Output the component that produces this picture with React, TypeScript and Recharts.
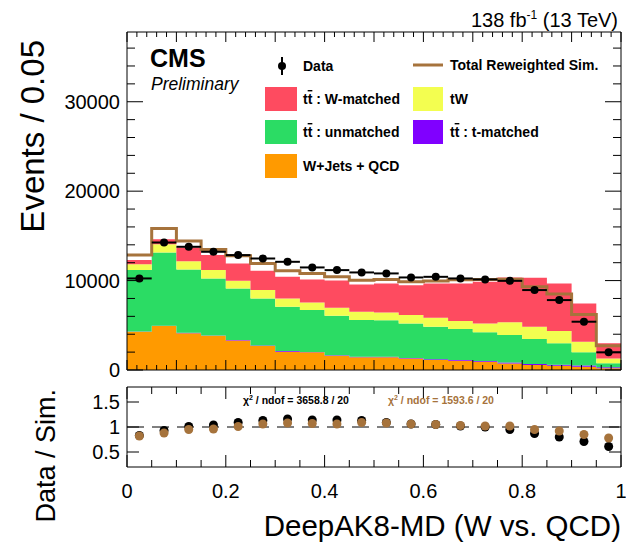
import {
  ComposedChart,
  Area,
  Line,
  Scatter,
  XAxis,
  YAxis,
  ErrorBar,
  ReferenceLine,
} from "recharts";

const FONT = "'Liberation Sans', Arial, Helvetica, sans-serif";

// histogram binning of the DeepAK8-MD score (20 bins of 0.05)
const BIN_EDGES = [
  0, 0.05, 0.1, 0.15, 0.2, 0.25, 0.3, 0.35, 0.4, 0.45, 0.5,
  0.55, 0.6, 0.65, 0.7, 0.75, 0.8, 0.85, 0.9, 0.95, 1,
];
const BIN_HALF = 0.025;

// stacked simulation, bottom to top
const WJETS_QCD = [4280, 4915, 4100, 3830, 3310, 2680, 2050, 1975, 1600, 1420, 1420, 1300, 1120, 1040, 930, 740, 560, 480, 370, 190];
const TT_TMATCHED = [20, 30, 60, 40, 40, 60, 80, 50, 50, 60, 50, 50, 80, 80, 80, 100, 120, 100, 120, 130];
const TT_UNMATCHED = [6870, 8205, 7080, 6370, 5770, 5270, 4940, 4675, 4420, 4105, 4080, 3860, 3640, 3460, 3200, 3070, 2780, 2400, 1485, 430];
const TW = [670, 920, 930, 930, 850, 930, 940, 860, 890, 925, 890, 930, 1000, 890, 1000, 1420, 1380, 1380, 1185, 550];
const TT_WMATCHED = [450, 560, 1530, 1680, 1950, 2150, 2410, 2570, 3060, 3060, 3240, 3350, 3840, 4210, 4650, 5020, 5470, 5320, 4290, 1680];

const TOTAL_REWEIGHTED = [12850, 15830, 14440, 13480, 12770, 11920, 11090, 10800, 10420, 10050, 10130, 9860, 9940, 10090, 10130, 10160, 9310, 8490, 6220, 2720];
const DATA = [10240, 14260, 13780, 13220, 12850, 12470, 12100, 11470, 11170, 10910, 10800, 10350, 10420, 10240, 10130, 9970, 8940, 7820, 5400, 1975];

// lower pad
const RATIO_SIM = [0.83, 0.93, 1.01, 1.04, 1.09, 1.13, 1.16, 1.14, 1.14, 1.13, 1.09, 1.06, 1.05, 1.02, 1.0, 0.95, 0.87, 0.8, 0.71, 0.61];
const RATIO_REWEIGHTED = [0.82, 0.88, 0.95, 0.96, 1.01, 1.06, 1.08, 1.07, 1.06, 1.09, 1.08, 1.06, 1.05, 1.03, 1.02, 1.02, 0.95, 0.92, 0.85, 0.78];

// axes
const MAIN_Y_TICKS = [0, 2000, 4000, 6000, 8000, 10000, 12000, 14000, 16000, 18000, 20000, 22000, 24000, 26000, 28000, 30000, 32000, 34000, 36000];
const MAIN_Y_LABELS = [0, 10000, 20000, 30000];
const MAIN_Y_DOMAIN = [0, 37800];
const X_LABELS = [0, 0.2, 0.4, 0.6, 0.8, 1];
const RATIO_Y_TICKS = [0.5, 1, 1.5];
const RATIO_Y_DOMAIN = [0.2, 1.8];
const MAIN_X_TICKS = Array.from({ length: 51 }, (_, i) => i / 50);

const C = {
  wjets: "#ff9a00",
  tmatched: "#8000ff",
  unmatched: "#2bdc64",
  tw: "#f3fe50",
  wmatched: "#fe4b60",
  brown: "#a6733c",
};

// layout (pixels)
const W = 626;
const PL = 127;
const PR = 621;
const MAIN_H = 384; // a little taller than the pad so the "0" label is not clipped
const M_TOP = 32;
const M_BOT = 370;
const RATIO_Y0 = 372;
const RATIO_H = 173;
const R_TOP = 15;
const R_BOT = 95;

const near = (v: number, list: number[]) => list.some((t) => Math.abs(t - v) < 1e-6);
const isMult = (v: number, step: number) => Math.abs(v / step - Math.round(v / step)) < 1e-6;
const fmtX = (v: number) => (v === 0 ? "0" : v === 1 ? "1" : v.toFixed(1));

const histRows = BIN_EDGES.map((x, i) => {
  const j = Math.min(i, DATA.length - 1);
  return {
    x,
    wjets: WJETS_QCD[j],
    tmatched: TT_TMATCHED[j],
    unmatched: TT_UNMATCHED[j],
    tw: TW[j],
    wmatched: TT_WMATCHED[j],
    total: TOTAL_REWEIGHTED[j],
  };
});
const centers = BIN_EDGES.slice(0, -1).map((e) => e + BIN_HALF);
const dataPts = centers.map((x, i) => ({ x, y: DATA[i], ex: BIN_HALF }));
const ratioSimPts = centers.map((x, i) => ({ x, y: RATIO_SIM[i] }));
const ratioRwPts = centers.map((x, i) => ({ x, y: RATIO_REWEIGHTED[i] }));

type TP = { x?: number; y?: number; payload?: { value: number } };

// ROOT-style ticks: drawn inward from the frame edge
const xTick =
  (edge: number, dir: number, len: (v: number) => number, labelY?: number) =>
  (p: TP) => {
    const x = p.x ?? 0;
    const v = p.payload?.value ?? 0;
    return (
      <g>
        <line x1={x} x2={x} y1={edge} y2={edge + dir * len(v)} stroke="#000" />
        {labelY !== undefined && near(v, X_LABELS) && (
          <text x={x} y={labelY} textAnchor="middle" fontSize={20} fontFamily={FONT} fill="#000">
            {fmtX(v)}
          </text>
        )}
      </g>
    );
  };

const yTick =
  (edge: number, dir: number, len: (v: number) => number, labels?: number[]) =>
  (p: TP) => {
    const y = p.y ?? 0;
    const v = p.payload?.value ?? 0;
    return (
      <g>
        <line x1={edge} x2={edge + dir * len(v)} y1={y} y2={y} stroke="#000" />
        {labels && near(v, labels) && (
          <text x={PL - 7} y={y + 7} textAnchor="end" fontSize={20} fontFamily={FONT} fill="#000">
            {String(v)}
          </text>
        )}
      </g>
    );
  };

const mainXLen = (v: number) => (isMult(v, 0.1) ? 10 : 5);
const mainYLen = (v: number) => (v % 10000 === 0 ? 16 : 8);
const ratioXLen = (v: number) => (isMult(v, 0.2) ? 12 : 7);
const ratioYLen = () => 12;

const dot = (fill: string, r: number) => (p: { cx?: number; cy?: number }) =>
  <circle cx={p.cx} cy={p.cy} r={r} fill={fill} />;

const axisLine = { stroke: "#000", strokeWidth: 1 };
const layer = (top: number) => ({ position: "absolute" as const, left: 0, top });

// frame + ticks for one pad, drawn in a transparent chart laid over the data.
// The two invisible lines only tie each axis to some data so that its ticks get built.
function frameAxes(o: {
  top: number;
  bot: number;
  bottomH: number;
  xTicks: number[];
  xLen: (v: number) => number;
  yTicks: number[];
  yLen: (v: number) => number;
  yDomain: number[];
  yLabels: number[];
  yKey: string;
  xLabelY?: number;
}) {
  return [
    <XAxis key="xb" dataKey="x" type="number" domain={[0, 1]} ticks={o.xTicks} interval={0}
      height={o.bottomH} tickLine={false} axisLine={axisLine}
      tick={xTick(o.bot, -1, o.xLen, o.xLabelY)} />,
    <XAxis key="xt" xAxisId="top" orientation="top" dataKey="x" type="number" domain={[0, 1]}
      ticks={o.xTicks} interval={0} height={1} tickLine={false} axisLine={axisLine}
      tick={xTick(o.top, 1, o.xLen)} />,
    <YAxis key="yl" type="number" domain={o.yDomain} ticks={o.yTicks} interval={0} width={PL}
      tickLine={false} axisLine={axisLine} tick={yTick(PL, 1, o.yLen, o.yLabels)} />,
    <YAxis key="yr" yAxisId="right" orientation="right" type="number" domain={o.yDomain}
      ticks={o.yTicks} interval={0} width={1} tickLine={false} axisLine={axisLine}
      tick={yTick(PR, -1, o.yLen)} />,
    <Line key="l1" dataKey={o.yKey} stroke="none" dot={false} isAnimationActive={false} />,
    <Line key="l2" xAxisId="top" yAxisId="right" dataKey={o.yKey} stroke="none" dot={false}
      isAnimationActive={false} />,
  ];
}

function Overlay() {
  const legendText = { fontSize: 14, fontWeight: 700, fontFamily: FONT, fill: "#000" };
  const tt = (
    <>
      t<tspan style={{ textDecoration: "overline" }}>t</tspan>
    </>
  );
  return (
    <svg width={W} height={545} style={{ position: "absolute", left: 0, top: 0, pointerEvents: "none" }}>
      <text x={618} y={27} textAnchor="end" fontSize={20} fontFamily={FONT}>
        138 fb<tspan dy={-8} fontSize={12}>-1</tspan>
        <tspan dy={8}> (13 TeV)</tspan>
      </text>
      <text x={150} y={67} fontSize={25} fontWeight={700} fontFamily={FONT}>CMS</text>
      <text x={151} y={90} fontSize={17.5} fontStyle="italic" fontFamily={FONT}>Preliminary</text>

      {/* legend */}
      <line x1={282} x2={282} y1={57} y2={75} stroke="#000" strokeWidth={2} />
      <circle cx={282} cy={66} r={4} fill="#000" />
      <text x={303} y={71} {...legendText}>Data</text>
      <line x1={413} x2={443} y1={65} y2={65} stroke={C.brown} strokeWidth={3} />
      <text x={450} y={70} {...legendText}>Total Reweighted Sim.</text>
      <rect x={265} y={87} width={32} height={24} fill={C.wmatched} />
      <text x={303} y={104} {...legendText}>{tt} : W-matched</text>
      <rect x={413} y={87} width={30} height={24} fill={C.tw} />
      <text x={450} y={104} {...legendText}>tW</text>
      <rect x={265} y={120} width={32} height={24} fill={C.unmatched} />
      <text x={303} y={137} {...legendText}>{tt} : unmatched</text>
      <rect x={413} y={120} width={30} height={24} fill={C.tmatched} />
      <text x={450} y={137} {...legendText}>{tt} : t-matched</text>
      <rect x={265} y={154} width={32} height={24} fill={C.wjets} />
      <text x={303} y={171} {...legendText}>W+Jets + QCD</text>

      {/* axis titles */}
      <text x={44} y={40} transform="rotate(-90 44 40)" textAnchor="end" fontSize={33} fontFamily={FONT}>
        Events / 0.05
      </text>
      <text x={55} y={389} transform="rotate(-90 55 389)" textAnchor="end" fontSize={27} fontFamily={FONT}>
        Data / Sim.
      </text>
      <text x={621} y={536} textAnchor="end" fontSize={29.5} fontFamily={FONT}>
        DeepAK8-MD (W vs. QCD)
      </text>

      {/* fit quality */}
      <text x={243} y={404} fontSize={10.5} fontWeight={700} fontFamily={FONT} fill="#000">
        χ<tspan dy={-4} fontSize={7}>2</tspan>
        <tspan dy={4}> / ndof = 3658.8 / 20</tspan>
      </text>
      <text x={388} y={404} fontSize={10.5} fontWeight={700} fontFamily={FONT} fill={C.brown}>
        χ<tspan dy={-4} fontSize={7}>2</tspan>
        <tspan dy={4}> / ndof = 1593.6 / 20</tspan>
      </text>
    </svg>
  );
}

const hiddenX = (h: number) => (
  <XAxis dataKey="x" type="number" domain={[0, 1]} height={h} tick={false} tickLine={false} axisLine={false} />
);
const hiddenY = (domain: number[]) => (
  <YAxis type="number" domain={domain} width={PL} tick={false} tickLine={false} axisLine={false} />
);

export default function App() {
  const mainMargin = { top: M_TOP, right: W - PR, bottom: MAIN_H - M_BOT - 1, left: 0 };
  const ratioMargin = { top: R_TOP, right: W - PR, bottom: 0, left: 0 };
  return (
    <div style={{ position: "absolute", left: 0, top: 0, width: W, height: 545, background: "#fff", fontFamily: FONT }}>
      {/* upper pad: stacked histogram */}
      <div style={layer(0)}>
        <ComposedChart width={W} height={MAIN_H} data={histRows} margin={mainMargin}>
          {hiddenX(1)}
          {hiddenY(MAIN_Y_DOMAIN)}
          <Area type="stepAfter" dataKey="wjets" stackId="sim" fill={C.wjets} fillOpacity={1} stroke="none" isAnimationActive={false} />
          <Area type="stepAfter" dataKey="tmatched" stackId="sim" fill={C.tmatched} fillOpacity={1} stroke="none" isAnimationActive={false} />
          <Area type="stepAfter" dataKey="unmatched" stackId="sim" fill={C.unmatched} fillOpacity={1} stroke="none" isAnimationActive={false} />
          <Area type="stepAfter" dataKey="tw" stackId="sim" fill={C.tw} fillOpacity={1} stroke="none" isAnimationActive={false} />
          <Area type="stepAfter" dataKey="wmatched" stackId="sim" fill={C.wmatched} fillOpacity={1} stroke="none" isAnimationActive={false} />
          <Line type="stepAfter" dataKey="total" stroke={C.brown} strokeWidth={3} dot={false} isAnimationActive={false} />
          <Scatter data={dataPts} dataKey="y" shape={dot("#000", 4)} isAnimationActive={false}>
            <ErrorBar dataKey="ex" direction="x" width={0} stroke="#000" strokeWidth={2} />
          </Scatter>
        </ComposedChart>
      </div>
      <div style={layer(0)}>
        <ComposedChart width={W} height={MAIN_H} data={histRows} margin={{ ...mainMargin, top: M_TOP - 1, right: W - PR - 1 }}>
          {frameAxes({
            top: M_TOP,
            bot: M_BOT,
            bottomH: 1,
            xTicks: MAIN_X_TICKS,
            xLen: mainXLen,
            yTicks: MAIN_Y_TICKS,
            yLen: mainYLen,
            yDomain: MAIN_Y_DOMAIN,
            yLabels: MAIN_Y_LABELS,
            yKey: "total",
          })}
        </ComposedChart>
      </div>

      {/* lower pad: ratios */}
      <div style={layer(RATIO_Y0)}>
        <ComposedChart width={W} height={RATIO_H} margin={ratioMargin}>
          {hiddenX(RATIO_H - R_BOT)}
          {hiddenY(RATIO_Y_DOMAIN)}
          <ReferenceLine y={1} stroke="#000" strokeDasharray="17 8" />
          <Scatter data={ratioSimPts} dataKey="y" shape={dot("#000", 4.5)} isAnimationActive={false} />
          <Scatter data={ratioRwPts} dataKey="y" shape={dot(C.brown, 4.5)} isAnimationActive={false} />
        </ComposedChart>
      </div>
      <div style={layer(RATIO_Y0)}>
        <ComposedChart width={W} height={RATIO_H} data={ratioSimPts} margin={{ ...ratioMargin, top: R_TOP - 1, right: W - PR - 1 }}>
          {frameAxes({
            top: R_TOP,
            bot: R_BOT,
            bottomH: RATIO_H - R_BOT,
            xTicks: BIN_EDGES,
            xLen: ratioXLen,
            yTicks: RATIO_Y_TICKS,
            yLen: ratioYLen,
            yDomain: RATIO_Y_DOMAIN,
            yLabels: RATIO_Y_TICKS,
            yKey: "y",
            xLabelY: R_BOT + 31,
          })}
        </ComposedChart>
      </div>

      <Overlay />
    </div>
  );
}
